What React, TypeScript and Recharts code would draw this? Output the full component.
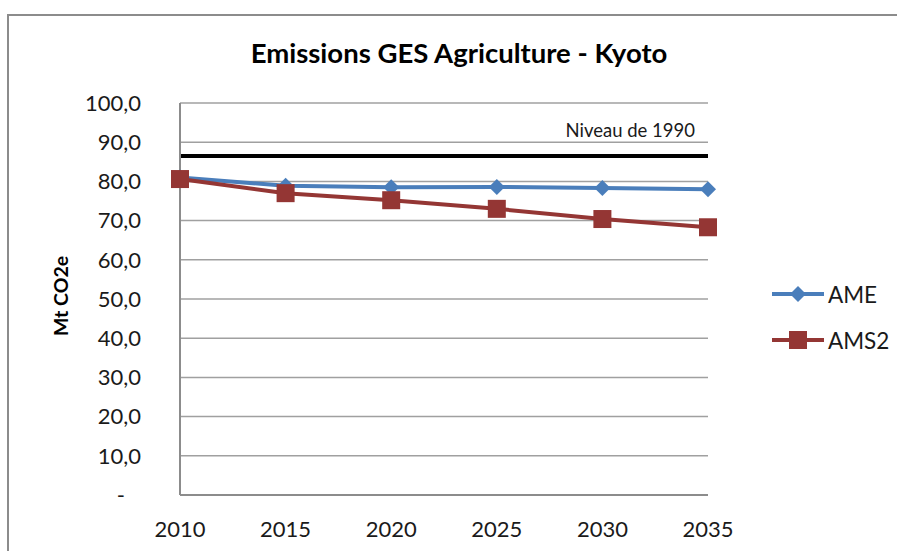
import { LineChart, Line, XAxis, YAxis, CartesianGrid, ReferenceLine } from "recharts";

const years = ["2010", "2015", "2020", "2025", "2030", "2035"];
const ame = [81.0, 78.9, 78.5, 78.6, 78.3, 78.0];
const ams2 = [80.6, 77.0, 75.2, 73.0, 70.4, 68.3];
const level1990 = 86.5;
const yTicks = [0, 10, 20, 30, 40, 50, 60, 70, 80, 90, 100];

const BLUE = "#4a7ebb";
const RED = "#943634";
const FONT = "Lato, 'Open Sans', sans-serif";

const data = years.map((y, i) => ({ year: y, AME: ame[i], AMS2: ams2[i] }));

function Diamond(props: any) {
  const { cx, cy } = props;
  if (cx == null || cy == null) return null;
  const r = 8;
  return (
    <path
      d={`M${cx},${cy - r} L${cx + r},${cy} L${cx},${cy + r} L${cx - r},${cy} Z`}
      fill={BLUE}
      stroke="none"
    />
  );
}

function Square(props: any) {
  const { cx, cy } = props;
  if (cx == null || cy == null) return null;
  const s = 9;
  return <rect x={cx - s} y={cy - s} width={s * 2} height={s * 2} fill={RED} />;
}

function YTick(props: any) {
  const { x, y, payload } = props;
  const v = payload.value as number;
  if (v === 0) {
    return (
      <text x={x - 16} y={y} dy="0.35em" textAnchor="end" fontSize={22} fill="#1a1a1a" fontFamily={FONT}>
        -
      </text>
    );
  }
  return (
    <text x={x} y={y} dy="0.35em" textAnchor="end" fontSize={22} fill="#1a1a1a" fontFamily={FONT}>
      {v.toFixed(1).replace(".", ",")}
    </text>
  );
}

function RefLabel(props: any) {
  const { viewBox } = props;
  if (!viewBox) return null;
  return (
    <text
      x={viewBox.x + viewBox.width - 13}
      y={viewBox.y - 19}
      textAnchor="end"
      fontSize={18.5}
      fill="#1a1a1a"
      fontFamily={FONT}
    >
      Niveau de 1990
    </text>
  );
}

export default function App() {
  return (
    <div style={{ position: "fixed", left: 0, top: 0, width: 897, height: 551, overflow: "hidden", background: "#fff" }}>
      <style>{"html,body{margin:0;overflow:hidden}"}</style>
      {/* outer frame: only the top and left edges fall inside the picture */}
      <svg width={897} height={551} style={{ position: "absolute", left: 0, top: 0 }}>
        <polyline points="8,551 8,15 897,15" fill="none" stroke="#8c8c8c" strokeWidth={2} />
      </svg>
      <div
        style={{
          position: "absolute",
          left: 0,
          top: 36,
          width: 918,
          textAlign: "center",
          fontFamily: FONT,
          fontWeight: 700,
          fontSize: 27.5,
          color: "#000",
        }}
      >
        Emissions GES Agriculture - Kyoto
      </div>
      <div
        style={{
          position: "absolute",
          left: 60,
          top: 296,
          transform: "translate(-50%, -50%) rotate(-90deg)",
          fontFamily: FONT,
          fontWeight: 700,
          fontSize: 19.5,
          whiteSpace: "nowrap",
        }}
      >
        Mt CO2e
      </div>
      <LineChart
        width={897}
        height={551}
        data={data}
        margin={{ top: 103, right: 189, bottom: 0, left: 0 }}
        style={{ position: "absolute", left: 0, top: 0 }}
      >
        <CartesianGrid vertical={false} stroke="#a0a0a0" strokeWidth={1.5} />
        <XAxis
          dataKey="year"
          axisLine={{ stroke: "#8c8c8c", strokeWidth: 2 }}
          tickLine={false}
          tickMargin={20}
          tick={{ fontSize: 22, fill: "#1a1a1a", fontFamily: FONT }}
          height={56}
        />
        <YAxis
          domain={[0, 100]}
          ticks={yTicks}
          width={180}
          axisLine={{ stroke: "#8c8c8c", strokeWidth: 2 }}
          tickLine={false}
          tickMargin={33}
          tick={<YTick />}
          interval={0}
        />
        <ReferenceLine y={level1990} stroke="#000" strokeWidth={4} label={<RefLabel />} />
        <Line
          dataKey="AME"
          stroke={BLUE}
          strokeWidth={4}
          dot={<Diamond />}
          isAnimationActive={false}
        />
        <Line
          dataKey="AMS2"
          stroke={RED}
          strokeWidth={4}
          dot={<Square />}
          isAnimationActive={false}
        />
      </LineChart>
      <div style={{ position: "absolute", left: 770, top: 280, fontFamily: FONT, fontSize: 22.5, color: "#1a1a1a" }}>
        {[
          { name: "AME", color: BLUE, shape: "diamond" },
          { name: "AMS2", color: RED, shape: "square" },
        ].map((it) => (
          <div key={it.name} style={{ display: "flex", alignItems: "center", height: 28, marginBottom: 18 }}>
            <svg width={56} height={24}>
              <line x1={2} y1={12} x2={54} y2={12} stroke={it.color} strokeWidth={4} />
              {it.shape === "diamond" ? (
                <path d="M28,4 L36,12 L28,20 L20,12 Z" fill={it.color} />
              ) : (
                <rect x={19} y={3} width={18} height={18} fill={it.color} />
              )}
            </svg>
            <span style={{ marginLeft: 2 }}>{it.name}</span>
          </div>
        ))}
      </div>
    </div>
  );
}
